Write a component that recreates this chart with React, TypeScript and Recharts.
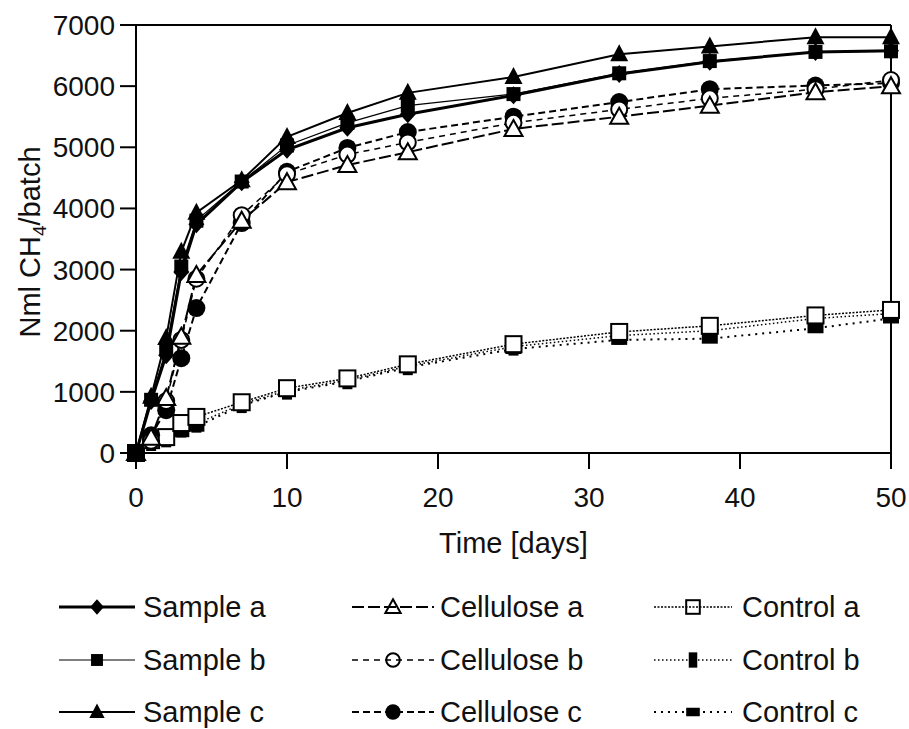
import React from 'react';
import { LineChart, Line, XAxis, YAxis, ReferenceLine } from 'recharts';

const days = [0, 1, 2, 3, 4, 7, 10, 14, 18, 25, 32, 38, 45, 50];

const sampleA = [0, 850, 1600, 2960, 3740, 4430, 4960, 5320, 5540, 5850, 6200, 6400, 6560, 6580];
const sampleB = [0, 870, 1700, 3050, 3800, 4440, 5030, 5400, 5680, 5870, 6210, 6410, 6560, 6570];
const sampleC = [0, 920, 1880, 3290, 3930, 4460, 5170, 5560, 5890, 6150, 6520, 6650, 6800, 6800];
const celluloseA = [0, 250, 900, 1900, 2910, 3800, 4430, 4710, 4920, 5300, 5500, 5680, 5900, 6000];
const celluloseB = [0, 200, 850, 1850, 2850, 3890, 4560, 4880, 5080, 5400, 5620, 5800, 5950, 6100];
const celluloseC = [0, 290, 700, 1550, 2370, 3760, 4600, 4990, 5250, 5500, 5740, 5950, 6010, 6050];
const controlA = [0, 210, 260, 490, 590, 830, 1060, 1220, 1450, 1780, 1980, 2080, 2250, 2340];
const controlB = [0, 180, 240, 400, 480, 800, 1020, 1190, 1420, 1740, 1920, 2000, 2200, 2280];
const controlC = [0, 160, 200, 340, 430, 780, 1000, 1170, 1400, 1700, 1850, 1870, 2040, 2200];

const xTicks = [0, 10, 20, 30, 40, 50];
const yTicks = [0, 1000, 2000, 3000, 4000, 5000, 6000, 7000];

const FONT = '"Liberation Sans", Arial, Helvetica, sans-serif';

type Shape = 'diamond' | 'square' | 'triangle' | 'openTriangle' | 'openCircle' | 'filledCircle' | 'openSquare' | 'tallRect' | 'wideRect';

interface SeriesDef {
  key: string;
  name: string;
  values: number[];
  shape: Shape;
  width: number;
  dash?: string;
}

// drawn in this order, last on top
const series: SeriesDef[] = [
  { key: 'controlC', name: 'Control c', values: controlC, shape: 'wideRect', width: 2, dash: '2 5' },
  { key: 'controlB', name: 'Control b', values: controlB, shape: 'tallRect', width: 1.5, dash: '1.5 2.5' },
  { key: 'controlA', name: 'Control a', values: controlA, shape: 'openSquare', width: 1.5, dash: '2 1.5' },
  { key: 'celluloseC', name: 'Cellulose c', values: celluloseC, shape: 'filledCircle', width: 2, dash: '7 4' },
  { key: 'celluloseB', name: 'Cellulose b', values: celluloseB, shape: 'openCircle', width: 1.5, dash: '6 5' },
  { key: 'celluloseA', name: 'Cellulose a', values: celluloseA, shape: 'openTriangle', width: 2, dash: '12 4' },
  { key: 'sampleB', name: 'Sample b', values: sampleB, shape: 'square', width: 1.2 },
  { key: 'sampleA', name: 'Sample a', values: sampleA, shape: 'diamond', width: 3 },
  { key: 'sampleC', name: 'Sample c', values: sampleC, shape: 'triangle', width: 2 },
];

const data = days.map((d, i) => {
  const row: Record<string, number> = { day: d };
  series.forEach(s => { row[s.key] = s.values[i]; });
  return row;
});

function Marker({ shape, cx, cy, s = 1, open = 'white' }: { shape: Shape; cx: number; cy: number; s?: number; open?: string }) {
  const k = (v: number) => v * s;
  switch (shape) {
    case 'diamond':
      return <polygon points={`${cx},${cy - k(9)} ${cx + k(8)},${cy} ${cx},${cy + k(9)} ${cx - k(8)},${cy}`} fill="#000" />;
    case 'square':
      return <rect x={cx - k(7)} y={cy - k(7)} width={k(14)} height={k(14)} fill="#000" />;
    case 'triangle':
      return <polygon points={`${cx},${cy - k(10)} ${cx + k(9)},${cy + k(7)} ${cx - k(9)},${cy + k(7)}`} fill="#000" />;
    case 'openTriangle':
      return <polygon points={`${cx},${cy - k(9)} ${cx + k(9)},${cy + k(7)} ${cx - k(9)},${cy + k(7)}`} fill={open} stroke="#000" strokeWidth={2} />;
    case 'openCircle':
      return <circle cx={cx} cy={cy} r={k(8)} fill={open} stroke="#000" strokeWidth={2} />;
    case 'filledCircle':
      return <circle cx={cx} cy={cy} r={k(9)} fill="#000" />;
    case 'openSquare':
      return <rect x={cx - k(8)} y={cy - k(8)} width={k(16)} height={k(16)} fill={open} stroke="#000" strokeWidth={2} />;
    case 'tallRect':
      return <rect x={cx - k(5)} y={cy - k(9)} width={k(10)} height={k(18)} fill="#000" />;
    case 'wideRect':
      return <rect x={cx - k(8)} y={cy - k(5)} width={k(16)} height={k(10)} fill="#000" />;
  }
  return null;
}

const legendCols = [
  { lineX1: 51, lineX2: 127, textX: 135, keys: ['sampleA', 'sampleB', 'sampleC'] },
  { lineX1: 344, lineX2: 426, textX: 432, keys: ['celluloseA', 'celluloseB', 'celluloseC'] },
  { lineX1: 646, lineX2: 724, textX: 734, keys: ['controlA', 'controlB', 'controlC'] },
];
const legendRows = [39, 92, 144];

function ChartLegend() {
  return (
    <svg width={901} height={161} style={{ position: 'absolute', left: 8, top: 568 }}>
      {legendCols.map(col =>
        col.keys.map((key, r) => {
          const s = series.find(v => v.key === key)!;
          const y = legendRows[r];
          const mx = (col.lineX1 + col.lineX2) / 2;
          return (
            <g key={key}>
              <line x1={col.lineX1} x2={col.lineX2} y1={y} y2={y} stroke="#000" strokeWidth={s.width} strokeDasharray={s.dash} />
              <Marker shape={s.shape} cx={mx} cy={y} s={0.85} open="none" />
              <text x={col.textX} y={y + 10} fontSize={29} fontFamily={FONT} fill="#111">{s.name}</text>
            </g>
          );
        })
      )}
    </svg>
  );
}

export default function App() {
  return (
    <div style={{ position: 'relative', width: 909, height: 729, background: '#fff' }}>
      <style>{'html { overflow: hidden; } body { margin: 0; }'}</style>
      <div style={{ position: 'absolute', left: 8, top: 8 }}>
        <LineChart width={901} height={560} data={data} margin={{ top: 17, right: 18, left: 0, bottom: 0 }}>
          <XAxis
            dataKey="day"
            type="number"
            domain={[0, 50]}
            ticks={xTicks}
            tickSize={16}
            tickMargin={18}
            height={115}
            stroke="#000"
            strokeWidth={2}
            tick={{ fill: '#111', fontSize: 28, fontFamily: FONT }}
            label={{
              content: ({ viewBox }: any) => (
                <text x={viewBox.x + viewBox.width / 2} y={viewBox.y + 100} textAnchor="middle" fontSize={29} fontFamily={FONT} fill="#111">
                  Time [days]
                </text>
              ),
            }}
          />
          <YAxis
            type="number"
            domain={[0, 7000]}
            ticks={yTicks}
            tickSize={16}
            tickMargin={5}
            width={128}
            stroke="#000"
            strokeWidth={2}
            tick={{ fill: '#111', fontSize: 28, fontFamily: FONT }}
            label={{
              content: ({ viewBox }: any) => {
                const cx = 32;
                const cy = viewBox.y + viewBox.height / 2 + 3;
                return (
                  <text transform={`rotate(-90 ${cx} ${cy})`} x={cx} y={cy} textAnchor="middle" fontSize={29} fontFamily={FONT} fill="#111">
                    Nml CH<tspan fontSize={19} dy={6}>4</tspan><tspan dy={-6}>/batch</tspan>
                  </text>
                );
              },
            }}
          />
          <ReferenceLine y={7000} stroke="#000" strokeWidth={2} />
          <ReferenceLine x={50} stroke="#000" strokeWidth={2} />
          {series.map(s => (
            <Line
              key={s.key}
              dataKey={s.key}
              name={s.name}
              type="linear"
              stroke="#000"
              strokeWidth={s.width}
              strokeDasharray={s.dash}
              isAnimationActive={false}
              dot={(p: any) => <Marker key={`${s.key}-${p.index}`} shape={s.shape} cx={p.cx} cy={p.cy} />}
            />
          ))}
        </LineChart>
      </div>
      <ChartLegend />
    </div>
  );
}
